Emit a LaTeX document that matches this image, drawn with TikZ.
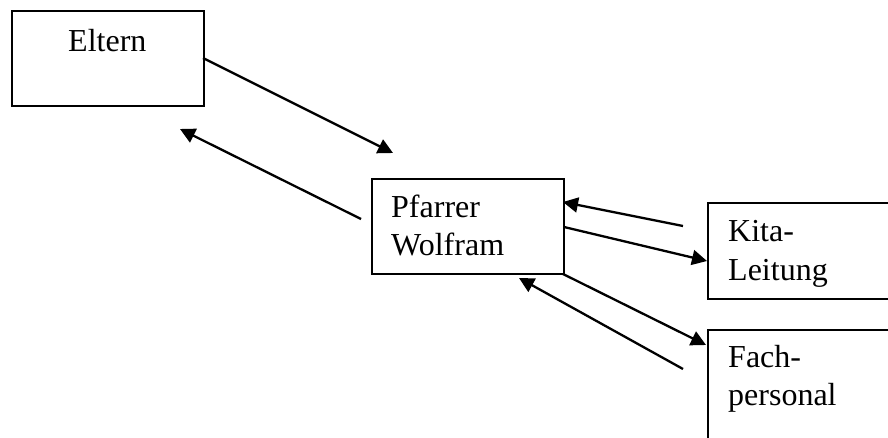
\documentclass[tikz,border=0pt]{standalone}
\usepackage{fontspec}
\setmainfont{Liberation Serif}
\usetikzlibrary{arrows.meta}
\begin{document}
\begin{tikzpicture}[x=1pt,y=-1pt,
  box/.style={draw=black,line width=2.3pt,inner sep=0pt,anchor=north west},
  lbl/.style={anchor=base west,inner sep=0pt,font=\fontsize{32}{37}\selectfont},
  flow/.style={line width=2.3pt,-{Triangle[length=15pt,width=15pt]}}]
  \useasboundingbox (0,0) rectangle (888,438);
  \clip (0,0) rectangle (888,438);
  % boxes
  \node[box,minimum width=192pt,minimum height=95pt] (eltern) at (11,10) {};
  \node[box,minimum width=192pt,minimum height=95pt] (pfarrer) at (371,178) {};
  \node[box,minimum width=200pt,minimum height=96pt] (kita) at (707,202) {};
  \node[box,minimum width=200pt,minimum height=130pt] (fach) at (707,329) {};
  % labels
  \node[lbl] (tEltern) at (68,52) {Eltern};
  \node[lbl] (tPf1) at (391,218) {Pfarrer};
  \node[lbl] (tPf2) at (391,255) {Wolfram};
  \node[lbl] (tKi1) at (728,242) {Kita-};
  \node[lbl] (tKi2) at (728,280) {Leitung};
  \node[lbl] (tFa1) at (728,367) {Fach-};
  \node[lbl] (tFa2) at (728,405) {personal};
  % arrow end points
  \coordinate (e1) at (203,58);
  \coordinate (p1) at (393,153);
  \coordinate (p2) at (361,219);
  \coordinate (e2) at (180,129);
  \coordinate (k1) at (683,226);
  \coordinate (p3) at (563,202);
  \coordinate (p4) at (564,227);
  \coordinate (k2) at (707,261);
  \coordinate (p5) at (563,274);
  \coordinate (f1) at (706,345);
  \coordinate (f2) at (683,369);
  \coordinate (p6) at (519,278);
  % connectors
  \draw[flow] (e1) -- (p1);
  \draw[flow] (p2) -- (e2);
  \draw[flow] (k1) -- (p3);
  \draw[flow] (p4) -- (k2);
  \draw[flow] (p5) -- (f1);
  \draw[flow] (f2) -- (p6);
\end{tikzpicture}
\end{document}
